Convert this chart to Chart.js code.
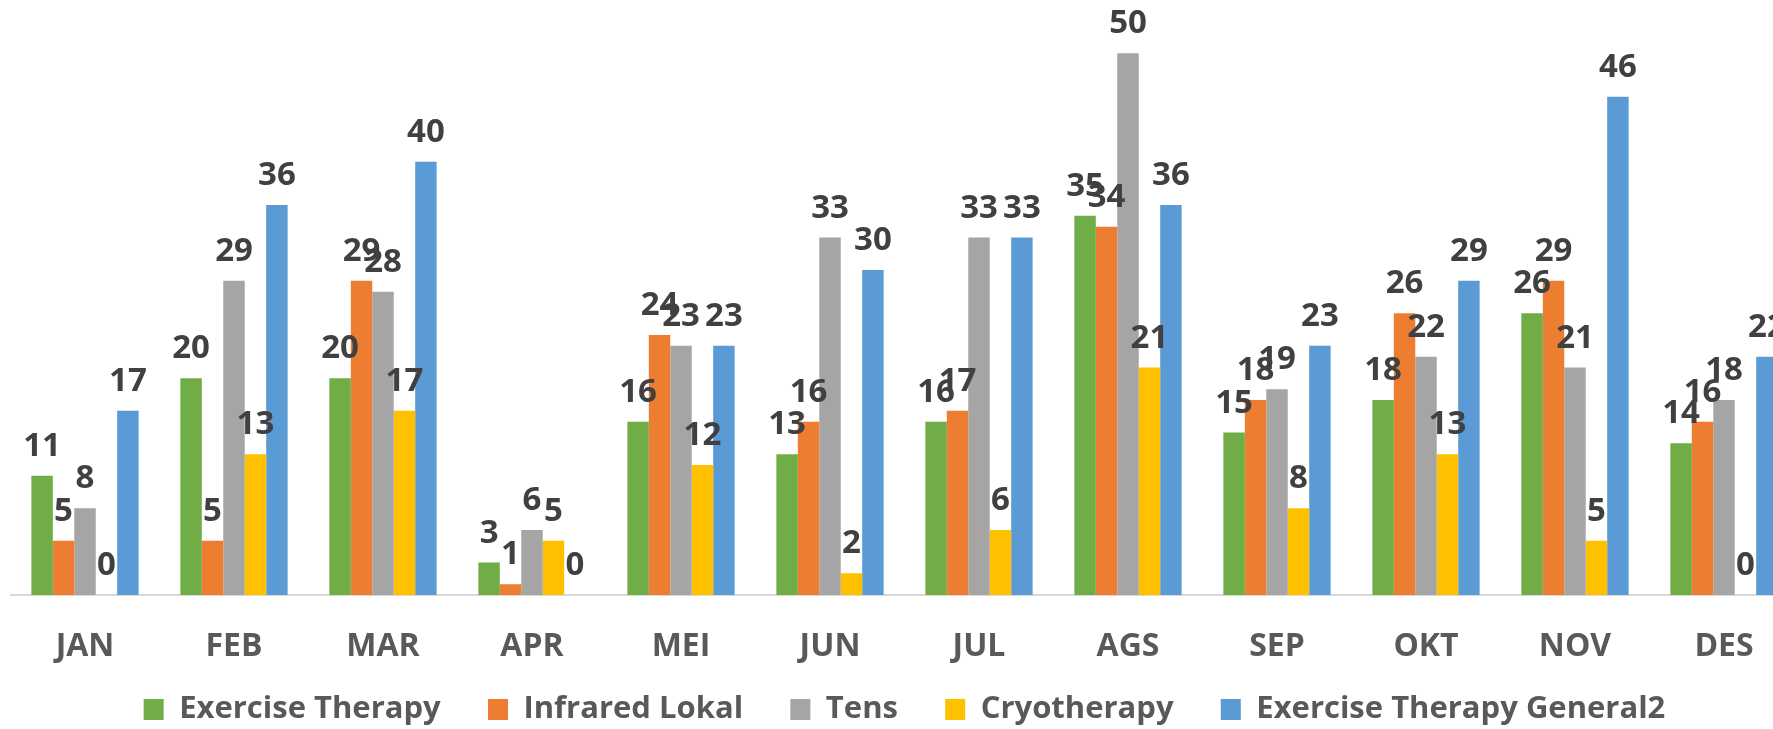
<!DOCTYPE html>
<html>
<head>
<meta charset="utf-8">
<script src="https://cdn.jsdelivr.net/npm/chart.js@4"></script>
<style>
  html, body { margin: 0; padding: 0; background: #fff; overflow: hidden; }
  #wrap { width: 1819px; height: 735px; }
</style>
</head>
<body>
<div id="wrap"><canvas id="bar-chart" width="1819" height="735"></canvas></div>
<script>
const months = ['JAN','FEB','MAR','APR','MEI','JUN','JUL','AGS','SEP','OKT','NOV','DES'];
const exerciseTherapy = [11, 20, 20, 3, 16, 13, 16, 35, 15, 18, 26, 14];
const infraredLokal   = [5, 5, 29, 1, 24, 16, 17, 34, 18, 26, 29, 16];
const tens            = [8, 29, 28, 6, 23, 33, 33, 50, 19, 22, 21, 18];
const cryotherapy     = [0, 13, 17, 5, 12, 2, 6, 21, 8, 13, 5, 0];
const exerciseGeneral = [17, 36, 40, 0, 23, 30, 33, 36, 23, 29, 46, 22];

const fontFamily = '"Open Sans", "DejaVu Sans", sans-serif';

//value labels over each bar
const valueLabels = {
    id: 'valueLabels',
    afterDatasetsDraw(chart) {
        const ctx = chart.ctx;
        ctx.save();
        ctx.font = 'bold 33px ' + fontFamily;
        ctx.fillStyle = '#404040';
        ctx.textAlign = 'center';
        ctx.textBaseline = 'alphabetic';
        chart.data.datasets.forEach(function(ds, i){
            const meta = chart.getDatasetMeta(i);
            meta.data.forEach(function(bar, j){
                ctx.fillText(String(ds.data[j]), bar.x, bar.y - 20);
            });
        });
        ctx.restore();
    }
};

function makeSet(label, data, color){
    return {
        label: label,
        data: data,
        backgroundColor: color,
        borderWidth: 0,
        categoryPercentage: 0.72,
        barPercentage: 1.0
    };
}

const ctx = document.getElementById('bar-chart').getContext('2d');
new Chart(ctx, {
    type: 'bar',
    data: {
        labels: months,
        datasets: [
            makeSet('Exercise Therapy', exerciseTherapy, '#70AD47'),
            makeSet('Infrared Lokal', infraredLokal, '#ED7D31'),
            makeSet('Tens', tens, '#A5A5A5'),
            makeSet('Cryotherapy', cryotherapy, '#FFC000'),
            makeSet('Exercise Therapy General2', exerciseGeneral, '#5B9BD5')
        ]
    },
    options: {
        responsive: false,
        animation: false,
        devicePixelRatio: 1,
        layout: { padding: { top: 10, left: 10.5, right: 20.5, bottom: 0 } },
        plugins: {
            tooltip: { enabled: false },
            legend: {
                position: 'bottom',
                labels: {
                    boxWidth: 20,
                    boxHeight: 21,
                    padding: 7,
                    color: '#595959',
                    font: { family: fontFamily, size: 31, weight: 'bold' },
                    //wide gaps between items without a tall legend box
                    generateLabels: function(chart){
                        const items = Chart.defaults.plugins.legend.labels.generateLabels(chart);
                        items.forEach(function(item, i){
                            if (i < items.length - 1) item.text = item.text + '     ';
                        });
                        return items;
                    }
                }
            }
        },
        scales: {
            x: {
                grid: { display: false, drawTicks: false },
                border: { display: true, color: '#D9D9D9', width: 2 },
                ticks: {
                    padding: 33,
                    color: '#595959',
                    font: { family: fontFamily, size: 32, weight: 'bold' }
                },
                afterFit: function(scale){ scale.height = 92; }
            },
            y: {
                display: false,
                min: 0,
                max: 54
            }
        }
    },
    plugins: [valueLabels]
});
</script>
</body>
</html>
